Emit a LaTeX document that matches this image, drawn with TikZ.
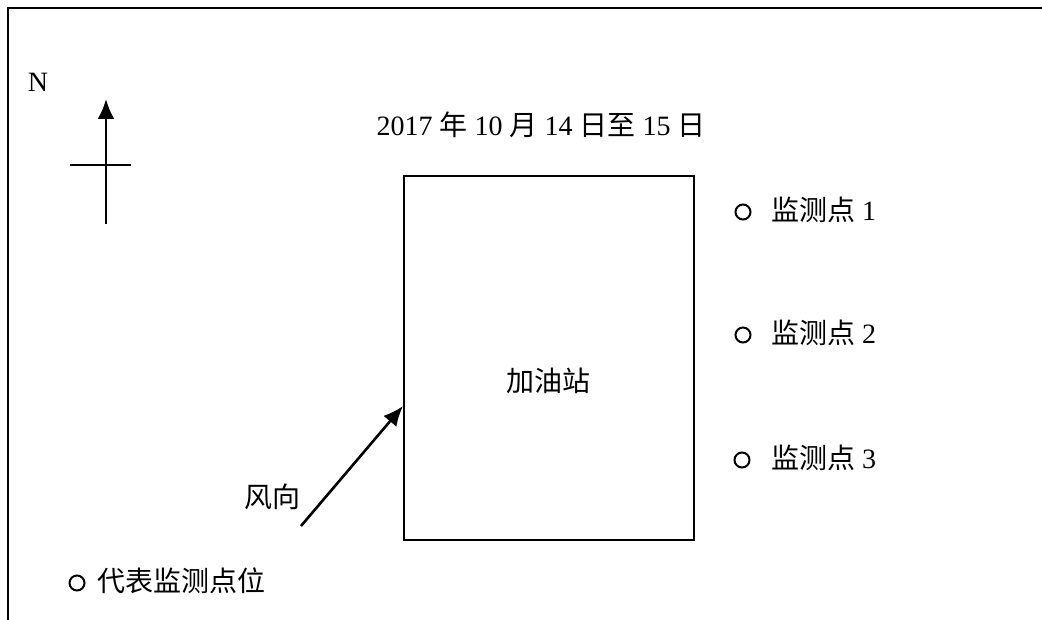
\documentclass[tikz,border=0pt]{standalone}
\usepackage{fontspec}
\setmainfont{Liberation Serif}
\newfontfamily\cjk{Noto Sans CJK SC}
\usetikzlibrary{arrows.meta}
\begin{document}
\begin{tikzpicture}[x=1pt,y=-1pt,
  frame/.style={line width=2.4pt},
  lbl/.style={inner sep=0pt,font=\fontsize{28}{32}\selectfont},
  pt/.style={circle,draw,line width=2pt,minimum size=15pt,inner sep=0pt},
  arr/.style={line width=2.6pt,-{Latex[length=20pt,width=17pt]}}]
\useasboundingbox (0,0) rectangle (1042,620);
% frame
\coordinate (f1) at (1042,8);
\coordinate (f2) at (8,8);
\coordinate (f3) at (8,620);
\draw[frame] (f1) -- (f2) -- (f3);
% north arrow
\node[lbl] (N) at (38,82) {N};
\coordinate (nbase) at (106,224);
\coordinate (ntip) at (106,99);
\coordinate (cl) at (70,165);
\coordinate (cr) at (131,165);
\draw[arr] (nbase) -- (ntip);
\draw[line width=2.4pt] (cl) -- (cr);
% date
\node[lbl] (date) at (541,125) {2017 {\cjk 年} 10 {\cjk 月} 14 {\cjk 日至} 15 {\cjk 日}};
% station
\node[draw,line width=2.4pt,minimum width=290pt,minimum height=364pt,inner sep=0pt] (station) at (549,358) {};
\node[lbl] (stname) at (548,381) {\cjk 加油站};
% wind
\coordinate (wtail) at (301,526);
\coordinate (wtip) at (403,406);
\draw[arr] (wtail) -- (wtip);
\node[lbl] (wind) at (272,497) {\cjk 风向};
% monitoring points
\node[pt] (p1) at (743,212) {};
\node[lbl,anchor=west] (t1) at (771,210) {{\cjk 监测点} 1};
\node[pt] (p2) at (743,335) {};
\node[lbl,anchor=west] (t2) at (771,333) {{\cjk 监测点} 2};
\node[pt] (p3) at (742,460) {};
\node[lbl,anchor=west] (t3) at (771,458) {{\cjk 监测点} 3};
% legend
\node[pt] (lp) at (77,583) {};
\node[lbl,anchor=west] (lt) at (97,581) {\cjk 代表监测点位};
\end{tikzpicture}
\end{document}
